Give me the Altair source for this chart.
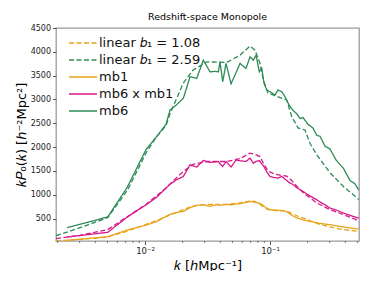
import altair as alt
import pandas as pd

# ---- data ----
k_solid = [0.00238, 0.00503, 0.00718, 0.01019, 0.0124, 0.01472, 0.01585, 0.0177, 0.02025, 0.02291,
           0.02592, 0.02927, 0.03311, 0.03631, 0.03858, 0.03981, 0.04184, 0.04446, 0.04875, 0.05346,
           0.05754, 0.06427, 0.06918, 0.07352, 0.07727, 0.08209, 0.0858, 0.08954, 0.0941, 0.1,
           0.1096, 0.1159, 0.124, 0.1318, 0.1419, 0.1519, 0.1636, 0.1738, 0.1837, 0.2014,
           0.2208, 0.2364, 0.2512, 0.2754, 0.302, 0.3373, 0.3858, 0.4365, 0.4786, 0.512]

mb6 = [312, 535, 1150, 1950, 2222, 2480, 2780, 2880, 3025, 3477,
       3443, 3826, 3580, 3590, 3580, 3790, 3372, 3757, 3330, 3560,
       3757, 3653, 3895, 3826, 3930, 3580, 3660, 3345, 3200, 3163,
       3094, 3200, 3163, 3058, 2885, 2780, 2700, 2600, 2620, 2480,
       2400, 2250, 2230, 2020, 1960, 1730, 1560, 1300, 1230, 1100]

mb6xmb1 = [115, 213, 530, 790, 950, 1142, 1220, 1310, 1385, 1630,
           1582, 1720, 1680, 1690, 1699, 1650, 1594, 1699, 1582, 1730,
           1715, 1700, 1770, 1665, 1700, 1720, 1650, 1590, 1480, 1385,
           1360, 1351, 1385, 1330, 1260, 1220, 1150, 1110, 1071, 1000,
           940, 897, 850, 790, 723, 680, 619, 570, 535, 510]

mb1 = [45, 120, 260, 365, 440, 548, 590, 625, 653, 730,
       780, 790, 758, 785, 793, 780, 790, 795, 790, 805,
       814, 840, 862, 850, 835, 828, 800, 760, 720, 688,
       680, 676, 674, 660, 610, 560, 515, 495, 475, 450,
       430, 415, 400, 385, 374, 350, 326, 305, 292, 284]

k_lin = [0.00194, 0.00302, 0.00503, 0.00727, 0.01019, 0.0124, 0.01472, 0.01585, 0.02025, 0.02421,
         0.03117, 0.04504, 0.05754, 0.06918, 0.07586, 0.08318, 0.08841, 0.09638, 0.1096, 0.136,
         0.1492, 0.1675, 0.1905, 0.2089, 0.2364, 0.302, 0.3858, 0.4938, 0.515]

lin_259 = [140, 310, 520, 1107, 1880, 2222, 2450, 2700, 3345, 3617,
           3790, 3778, 3930, 4120, 4035, 3757, 3408, 3136, 3080, 2990,
           2640, 2404, 2360, 2080, 1840, 1462, 1176, 940, 900]

lin_cross = [80, 150, 270, 545, 800, 980, 1142, 1230, 1490, 1640,
             1699, 1699, 1760, 1874, 1850, 1803, 1665, 1500, 1430, 1390,
             1300, 1150, 1010, 940, 828, 688, 584, 475, 464]

lin_108 = [35, 65, 115, 240, 380, 460, 540, 580, 690, 765,
           800, 800, 830, 870, 860, 800, 740, 690, 670, 660,
           610, 550, 500, 460, 400, 326, 270, 240, 234]

minor_k = [0.002, 0.003, 0.004, 0.005, 0.006, 0.007, 0.008, 0.009,
           0.02, 0.03, 0.04, 0.05, 0.06, 0.07, 0.08, 0.09,
           0.2, 0.3, 0.4, 0.5]

names = ["linear \U0001d44f\u2081 = 1.08", "linear \U0001d44f\u2081 = 2.59", "mb1", "mb6 x mb1", "mb6"]
colors = ["#e8a41c", "#2e8b57", "#e8a41c", "#d6198a", "#2e8b57"]
dashes = [[5, 2.5], [5, 2.5], [1, 0], [1, 0], [1, 0]]

rows = []
def add(name, ks, vs, order):
    for k, v in zip(ks, vs):
        rows.append({"k": k, "P": v, "series": name, "o": order})

add(names[0], k_lin, lin_108, 0)
add(names[1], k_lin, lin_259, 1)
add("linear cross", k_lin, lin_cross, 2)
add(names[2], k_solid, mb1, 3)
add(names[3], k_solid, mb6xmb1, 4)
add(names[4], k_solid, mb6, 5)
df = pd.DataFrame(rows)

W, H = 303, 213
font = "DejaVu Sans"

xscale = alt.Scale(type="log", domain=[0.00194, 0.515], nice=False)
yscale = alt.Scale(domain=[31, 4500], nice=False, zero=False)

base_x = alt.X("k:Q", scale=xscale,
               axis=alt.Axis(values=[0.01, 0.1],
                             labelExpr="datum.value < 0.05 ? '10\u207b\u00b2' : '10\u207b\u00b9'",
                             title="\U0001d458 [\u210eMpc\u207b\u00b9]", titleFontSize=13,
                             titleFont=font, titleFontWeight="normal", titlePadding=4,
                             labelFontSize=8.5, labelFont=font, tickSize=3.5, grid=False,
                             domain=False, labelColor="#222", tickColor="#555"))
base_y = alt.Y("P:Q", scale=yscale,
               axis=alt.Axis(values=list(range(500, 4501, 500)), format="d",
                             title="\U0001d458\U0001d443\u2080(\U0001d458) [\u210e\u207b\u00b2Mpc\u00b2]",
                             titleFontSize=13, titleFont=font, titleFontWeight="normal",
                             titlePadding=2, labelFontSize=8, labelFont=font, tickSize=3.5,
                             grid=False, domain=False, labelColor="#222", tickColor="#555"))

lines = alt.Chart(df).mark_line(strokeWidth=1.3, clip=True).encode(
    x=base_x,
    y=base_y,
    color=alt.Color("series:N",
                    scale=alt.Scale(domain=names + ["linear cross"], range=colors + ["#d6198a"]),
                    legend=alt.Legend(values=names, title=None, orient="none", legendX=19, legendY=7,
                                      symbolType="M-2,0H2", symbolSize=196, symbolStrokeWidth=1.5,
                                      labelFontSize=13, labelFont=font, labelLimit=300,
                                      rowPadding=2, labelOffset=8, symbolOffset=0)),
    strokeDash=alt.StrokeDash("series:N",
                              scale=alt.Scale(domain=names + ["linear cross"], range=dashes + [[5, 2.5]]),
                              legend=None),
    detail="series:N",
    order="o:Q",
)

minor = alt.Chart(pd.DataFrame({"k": minor_k})).mark_rule(color="#555", strokeWidth=0.8).encode(
    x=alt.X("k:Q", scale=xscale),
    y=alt.value(H),
    y2=alt.value(H + 2),
)

chart = alt.layer(lines, minor).properties(
    width=W, height=H,
    title=alt.TitleParams("Redshift-space Monopole", fontSize=9.5, font=font,
                          fontWeight="normal", offset=3),
    autosize=alt.AutoSizeParams(type="none"),
    padding={"left": 48, "top": 20, "right": 10, "bottom": 30},
).configure_view(stroke="#9a9a9a", strokeWidth=1.3).configure_legend(
    labelColor="#111"
)

chart.save("out.html", embed_options={"renderer": "svg", "actions": False})
